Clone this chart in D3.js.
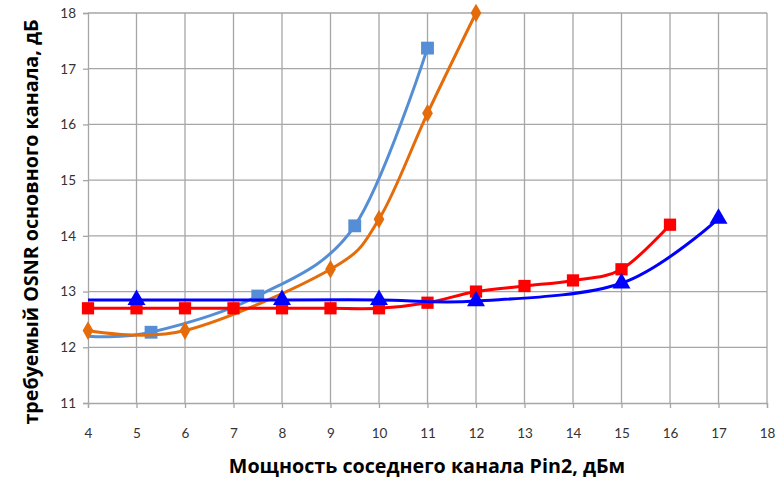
<!DOCTYPE html>
<html><head><meta charset="utf-8">
<script src="https://cdn.jsdelivr.net/npm/d3@7"></script>
<style>body{margin:0;background:#fff}svg{display:block}</style>
</head><body><svg id="c" width="780" height="479"></svg>
<script>
const xTicks = [4,5,6,7,8,9,10,11,12,13,14,15,16,17,18];
const yTicks = [11,12,13,14,15,16,17,18];
// light blue squares
const sLightX = [4, 5.3, 7.5, 9.5, 11];
const sLightY = [12.2, 12.27, 12.92, 14.18, 17.37];
const sLightMark = [false, true, true, true, true];
// orange diamonds
const sOrangeX = [4, 6, 9, 10, 11, 12];
const sOrangeY = [12.3, 12.3, 13.4, 14.3, 16.2, 18.0];
// red squares
const sRedX = [4,5,6,7,8,9,10,11,12,13,14,15,16];
const sRedY = [12.7,12.7,12.7,12.7,12.7,12.7,12.7,12.8,13.0,13.1,13.2,13.4,14.2];
// blue triangles
const sBlueX = [4, 5, 8, 10, 12, 15, 17];
const sBlueY = [12.85, 12.85, 12.85, 12.85, 12.83, 13.15, 14.31];
const sBlueMark = [false, true, true, true, true, true, true];

const xLabel = "Мощность соседнего канала Pin2, дБм";
const yLabel = "требуемый OSNR основного канала, дБ";

const svg = d3.select("#c");
const L = 88, R = 767, T = 13, B = 403;
const x = d3.scaleLinear().domain([4,18]).range([L,R]);
const y = d3.scaleLinear().domain([11,18]).range([B,T]);
const font = "Lato, 'Open Sans', sans-serif";
const tfont = "'Open Sans', Lato, sans-serif";
const grid = "#a6a6a6";

// gridlines
svg.append("g").selectAll("line").data(xTicks.slice(1)).join("line")
  .attr("x1", d=>x(d)).attr("x2", d=>x(d)).attr("y1", T).attr("y2", B)
  .attr("stroke", grid).attr("stroke-width", 1.3);
svg.append("g").selectAll("line").data(yTicks.slice(1)).join("line")
  .attr("x1", L).attr("x2", R).attr("y1", d=>y(d)).attr("y2", d=>y(d))
  .attr("stroke", grid).attr("stroke-width", 1.3);

// axes
const xAxis = svg.append("g").attr("transform",`translate(0,${B})`)
  .call(d3.axisBottom(x).tickValues(xTicks).tickSize(5).tickPadding(20).tickFormat(d3.format("d")));
const yAxis = svg.append("g").attr("transform",`translate(${L},0)`)
  .call(d3.axisLeft(y).tickValues(yTicks).tickSize(5).tickPadding(7).tickFormat(d3.format("d")));
[xAxis,yAxis].forEach(a=>{
  a.select(".domain").attr("stroke", grid).attr("stroke-width",1.3);
  a.selectAll(".tick line").attr("stroke", grid).attr("stroke-width",1.3);
  a.selectAll("text").attr("fill","#333").style("font-family",font).style("font-size","13.5px");
});

const curve = d3.curveCatmullRom.alpha(0);
function series(xs, ys, color, shape, size, marks){
  const pts = xs.map((v,i)=>({x:v,y:ys[i],m:marks?marks[i]:true}));
  svg.append("path").datum(pts)
    .attr("d", d3.line().x(d=>x(d.x)).y(d=>y(d.y)).curve(curve))
    .attr("fill","none").attr("stroke",color).attr("stroke-width",3);
  svg.append("g").selectAll("path").data(pts.filter(d=>d.m)).join("path")
    .attr("transform", d=>`translate(${x(d.x)},${y(d.y)})`)
    .attr("d", d3.symbol().type(shape).size(size))
    .attr("fill", color);
}
series(sLightX, sLightY, "#558ED5", d3.symbolSquare, 165, sLightMark);
series(sOrangeX, sOrangeY, "#E46C0A", d3.symbolDiamond, 100);
series(sRedX, sRedY, "#FF0000", d3.symbolSquare, 150);
series(sBlueX, sBlueY, "#0000FF", d3.symbolTriangle, 140, sBlueMark);

svg.append("text").attr("x", 427).attr("y", 473).attr("text-anchor","middle")
  .style("font-family",tfont).style("font-weight","bold").style("font-size","19.7px").attr("fill","#000")
  .text(xLabel);
svg.append("text").attr("transform","translate(38,222) rotate(-90)").attr("text-anchor","middle")
  .style("font-family",tfont).style("font-weight","bold").style("font-size","19.7px").attr("fill","#000")
  .text(yLabel);
</script></body></html>
